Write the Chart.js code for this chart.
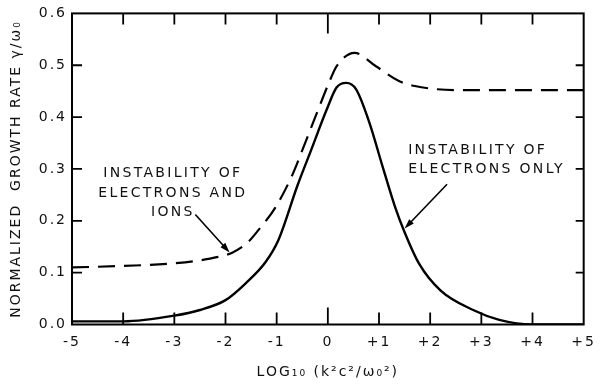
<!DOCTYPE html>
<html lang="en">
<head>
<meta charset="UTF-8">
<title>Normalized growth rate</title>
<style>
  html, body { margin: 0; padding: 0; background: #fff; }
  #wrap { width: 603px; height: 384px; }
</style>
</head>
<body>
<div id="wrap"><canvas id="growthChart"></canvas></div>
<script src="https://cdn.jsdelivr.net/npm/chart.js"></script>
<script>
// solid curve - instability of electrons only
const electronsX = [-5, -4, -3, -2.5, -2, -1.6, -1.22, -0.97, -0.59, -0.34, -0.02, 0.17, 0.36, 0.55, 0.81, 1.06, 1.31, 1.5, 1.78, 2.2, 2.84, 3.35, 4, 5];
const electronsY = [0.006, 0.006, 0.017, 0.028, 0.047, 0.08, 0.12, 0.162, 0.269, 0.333, 0.415, 0.457, 0.466, 0.454, 0.39, 0.308, 0.228, 0.178, 0.118, 0.066, 0.028, 0.009, 0, 0];

// dashed curve - instability of electrons and ions
const ionsX = [-5, -4, -3, -2.37, -1.86, -1.57, -1.35, -1.03, -0.71, -0.46, -0.21, 0.05, 0.17, 0.52, 0.94, 1.38, 1.7, 2.52, 3.79, 5];
const ionsY = [0.11, 0.113, 0.118, 0.126, 0.139, 0.158, 0.183, 0.225, 0.285, 0.346, 0.409, 0.473, 0.498, 0.524, 0.498, 0.47, 0.46, 0.452, 0.452, 0.452];

const xTicks = [-5, -4, -3, -2, -1, 0, 1, 2, 3, 4, 5];
const xTickLabels = ['-5', '-4', '-3', '-2', '-1', '0', '+1', '+2', '+3', '+4', '+5'];
const yTicks = [0, 0.1, 0.2, 0.3, 0.4, 0.5, 0.6];
const yTickLabels = ['0.0', '0.1', '0.2', '0.3', '0.4', '0.5', '0.6'];

const FONT = '"DejaVu Sans", sans-serif';
const INK = '#111';

const toPoints = (xs, ys) => xs.map((x, i) => ({ x: x, y: ys[i] }));

// box, inward tick marks, notes and arrows
const frame = {
    id: 'frame',
    beforeDraw(chart) {
        chart.ctx.letterSpacing = '2px';
    },
    afterDraw(chart) {
        const { ctx, chartArea: a, scales: { x, y } } = chart;
        ctx.save();
        ctx.strokeStyle = '#000';
        ctx.lineWidth = 2;
        ctx.strokeRect(a.left, a.top, a.right - a.left, a.bottom - a.top);

        ctx.lineWidth = 1.8;
        ctx.beginPath();
        x.ticks.forEach(t => {
            if (t.value === -5 || t.value === 5) return;
            const px = x.getPixelForValue(t.value);
            ctx.moveTo(px, a.bottom);
            ctx.lineTo(px, a.bottom - (t.value === 0 ? 17 : 12));
            ctx.moveTo(px, a.top);
            ctx.lineTo(px, a.top + (t.value === 0 ? 20 : 11));
        });
        y.ticks.forEach(t => {
            if (t.value === 0 || t.value === 0.6) return;
            const py = y.getPixelForValue(t.value);
            ctx.moveTo(a.left, py);
            ctx.lineTo(a.left + 10, py);
            ctx.moveTo(a.right, py);
            ctx.lineTo(a.right - 8, py);
        });
        ctx.stroke();

        // notes
        ctx.fillStyle = INK;
        ctx.font = '14px ' + FONT;
        ctx.letterSpacing = '2.3px';
        ctx.textBaseline = 'middle';
        const note = (vx, vy, align, lines) => {
            ctx.textAlign = align;
            const px = x.getPixelForValue(vx);
            const py = y.getPixelForValue(vy);
            lines.forEach((s, i) => ctx.fillText(s, px, py + i * 19.5));
        };
        note(-3.03, 0.291, 'center', ['INSTABILITY OF', 'ELECTRONS AND', 'IONS']);
        note(1.57, 0.336, 'left', ['INSTABILITY OF', 'ELECTRONS ONLY']);

        const arrow = (x0, y0, x1, y1) => {
            const ax = x.getPixelForValue(x0), ay = y.getPixelForValue(y0);
            const bx = x.getPixelForValue(x1), by = y.getPixelForValue(y1);
            const ang = Math.atan2(by - ay, bx - ax);
            ctx.lineWidth = 1.6;
            ctx.beginPath();
            ctx.moveTo(ax, ay);
            ctx.lineTo(bx - 6 * Math.cos(ang), by - 6 * Math.sin(ang));
            ctx.stroke();
            ctx.beginPath();
            ctx.moveTo(bx, by);
            ctx.lineTo(bx - 10 * Math.cos(ang) + 3.2 * Math.sin(ang), by - 10 * Math.sin(ang) - 3.2 * Math.cos(ang));
            ctx.lineTo(bx - 10 * Math.cos(ang) - 3.2 * Math.sin(ang), by - 10 * Math.sin(ang) + 3.2 * Math.cos(ang));
            ctx.closePath();
            ctx.fillStyle = '#000';
            ctx.fill();
        };
        arrow(-2.59, 0.212, -1.92, 0.139);
        arrow(2.33, 0.2705, 1.5, 0.185);
        ctx.restore();
    }
};

new Chart(document.getElementById('growthChart'), {
    type: 'line',
    data: {
        datasets: [{
            label: 'Instability of electrons only',
            data: toPoints(electronsX, electronsY),
            borderColor: '#000',
            borderWidth: 2.4,
            pointRadius: 0,
            cubicInterpolationMode: 'monotone',
            fill: false
        }, {
            label: 'Instability of electrons and ions',
            data: toPoints(ionsX, ionsY),
            borderColor: '#000',
            borderWidth: 2.2,
            borderDash: [17, 9],
            pointRadius: 0,
            cubicInterpolationMode: 'monotone',
            fill: false
        }]
    },
    options: {
        responsive: true,
        maintainAspectRatio: false,
        animation: false,
        devicePixelRatio: 1,
        layout: { padding: { top: 10, right: 6, left: 0, bottom: 0 } },
        plugins: {
            legend: { display: false },
            tooltip: { enabled: false }
        },
        scales: {
            x: {
                type: 'linear',
                min: -5,
                max: 5,
                afterBuildTicks: s => { s.ticks = xTicks.map(v => ({ value: v })); },
                afterFit: s => { s.height = 59.5; },
                grid: { display: false, drawTicks: false },
                border: { display: false },
                ticks: {
                    autoSkip: false,
                    maxRotation: 0,
                    padding: 9,
                    color: INK,
                    font: { family: FONT, size: 14 },
                    callback: (v, i) => xTickLabels[i]
                },
                title: {
                    display: true,
                    text: 'LOG₁₀ (k²c²/ω₀²)',
                    color: INK,
                    font: { family: FONT, size: 14 },
                    padding: { top: 0, bottom: 3 }
                }
            },
            y: {
                min: 0,
                max: 0.6,
                afterBuildTicks: s => { s.ticks = yTicks.map(v => ({ value: v })); },
                afterFit: s => { s.width = 72; },
                grid: { display: false, drawTicks: false },
                border: { display: false },
                ticks: {
                    padding: 5,
                    color: INK,
                    font: { family: FONT, size: 14 },
                    callback: (v, i) => yTickLabels[i]
                },
                title: {
                    display: true,
                    text: 'NORMALIZED  GROWTH RATE γ/ω₀',
                    color: INK,
                    font: { family: FONT, size: 14 },
                    padding: { top: 8, bottom: 0 }
                }
            }
        }
    },
    plugins: [frame]
});
</script>
</body>
</html>
